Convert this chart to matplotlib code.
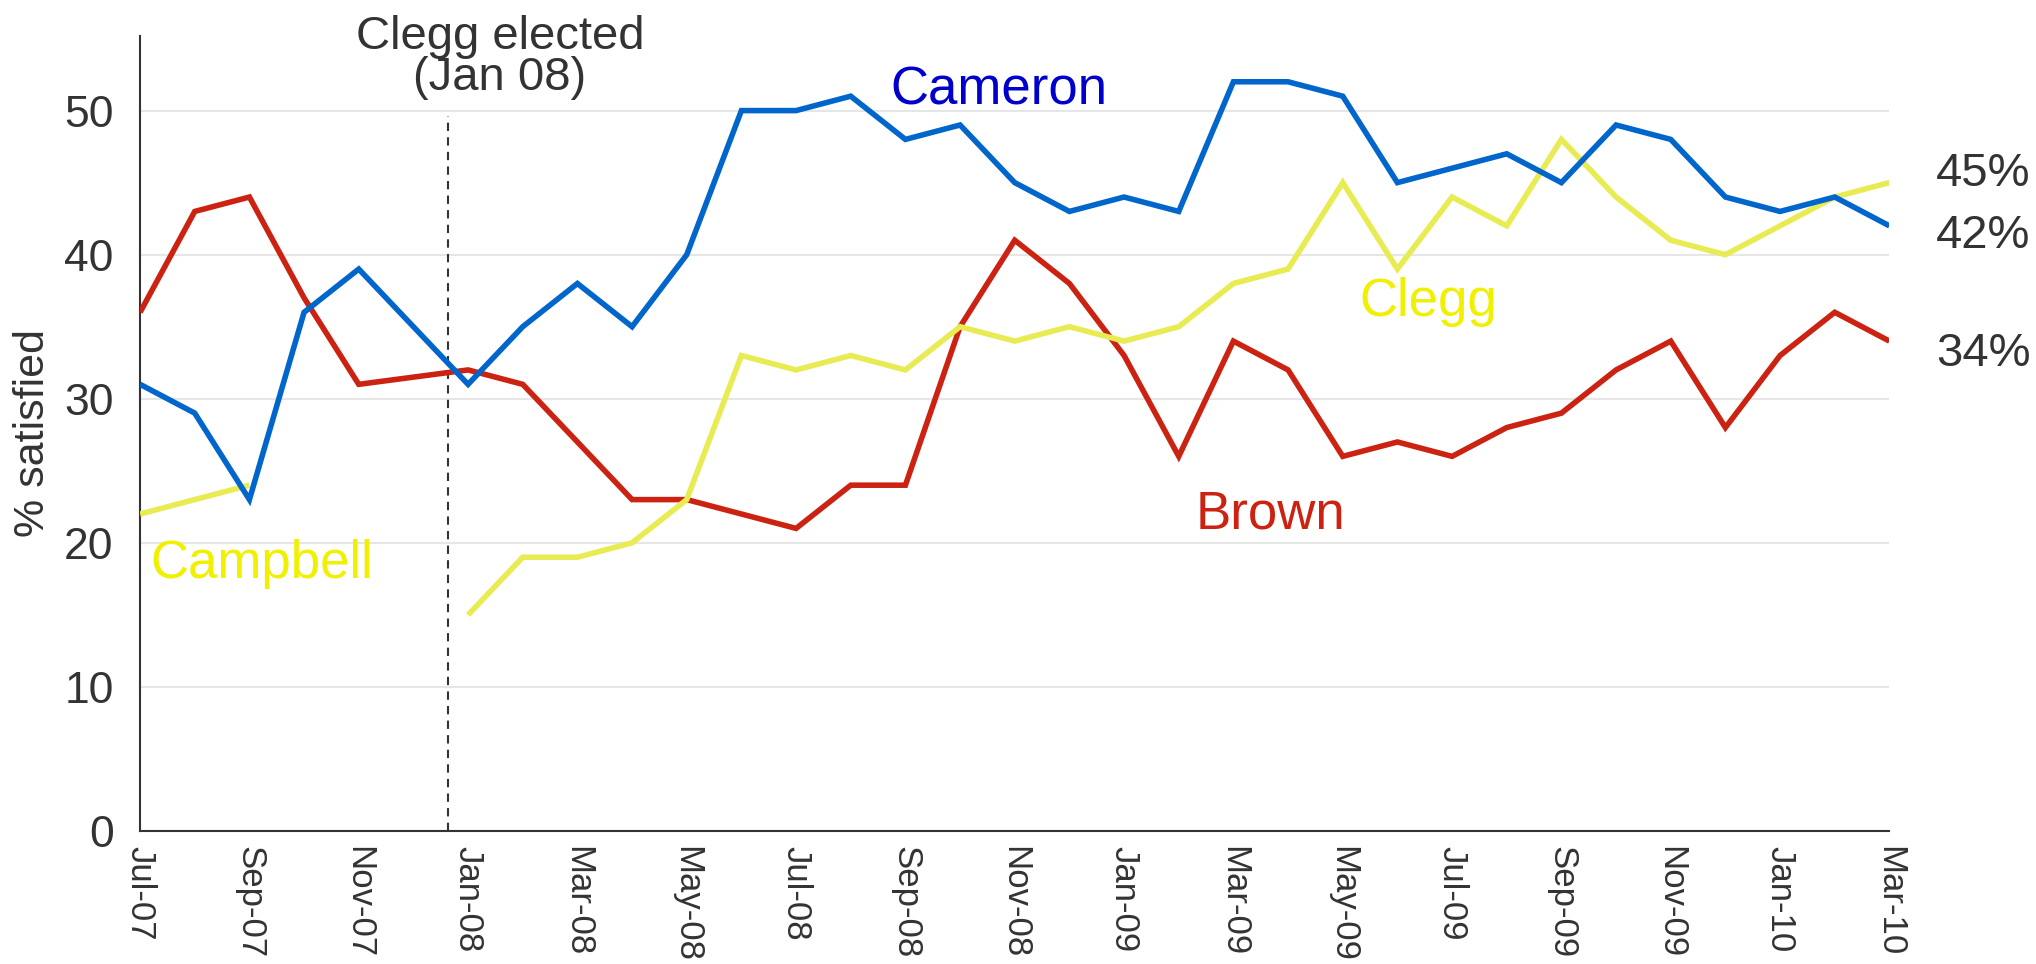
import matplotlib
matplotlib.use("Agg")
import matplotlib.pyplot as plt
import numpy as np

plt.rcParams['font.family'] = ['Liberation Sans', 'DejaVu Sans']

months = ["Jul-07", "Aug-07", "Sep-07", "Oct-07", "Nov-07", "Dec-07",
          "Jan-08", "Feb-08", "Mar-08", "Apr-08", "May-08", "Jun-08",
          "Jul-08", "Aug-08", "Sep-08", "Oct-08", "Nov-08", "Dec-08",
          "Jan-09", "Feb-09", "Mar-09", "Apr-09", "May-09", "Jun-09",
          "Jul-09", "Aug-09", "Sep-09", "Oct-09", "Nov-09", "Dec-09",
          "Jan-10", "Feb-10", "Mar-10"]

cameron = [31, 29, 23, 36, 39, None, 31, 35, 38, 35, 40, 50,
           50, 51, 48, 49, 45, 43, 44, 43, 52, 52, 51, 45,
           46, 47, 45, 49, 48, 44, 43, 44, 42]
brown = [36, 43, 44, 37, 31, None, 32, 31, 27, 23, 23, 22,
         21, 24, 24, 35, 41, 38, 33, 26, 34, 32, 26, 27,
         26, 28, 29, 32, 34, 28, 33, 36, 34]
clegg = [None, None, None, None, None, None, 15, 19, 19, 20, 23, 33,
         32, 33, 32, 35, 34, 35, 34, 35, 38, 39, 45, 39,
         44, 42, 48, 44, 41, 40, 42, 44, 45]
campbell = [22, 23, 24]

tick_labels = months[::2]

BLUE = "#0066CC"
RED = "#CC2211"
YELLOW = "#E8EC52"
TEXT = "#333333"

fig = plt.figure(figsize=(20.36, 9.64), dpi=100)
ax = fig.add_axes([0.0688, 0.138, 0.8592, 0.825])

def plot_series(vals, color):
    xs = [i for i, v in enumerate(vals) if v is not None]
    ys = [v for v in vals if v is not None]
    ax.plot(xs, ys, color=color, lw=4.0, solid_joinstyle='miter',
            solid_capstyle='butt', zorder=3)

plot_series(brown, RED)
plot_series(campbell, YELLOW)
plot_series(clegg, YELLOW)
plot_series(cameron, BLUE)

ax.set_xlim(0, len(months) - 1)
ax.set_ylim(0, 55.2)
ax.set_yticks([0, 10, 20, 30, 40, 50])
ax.set_xticks(range(0, len(months), 2))
ax.set_xticklabels(tick_labels, rotation=270, fontsize=25, color=TEXT,
                   va='top', ha='center')
ax.tick_params(axis='y', labelsize=32, colors=TEXT, length=0, pad=19)
ax.tick_params(axis='x', length=0, pad=11)
ax.grid(axis='y', color='#E6E6E6', lw=1.5, zorder=0)
ax.set_axisbelow(True)
for s in ['top', 'right']:
    ax.spines[s].set_visible(False)
for s in ['left', 'bottom']:
    ax.spines[s].set_color(TEXT)
    ax.spines[s].set_linewidth(1.5)
ax.set_ylabel("% satisfied", fontsize=31, color=TEXT, labelpad=8)

# Clegg elected marker
ev = months.index("Jan-08") - 0.37
ax.plot([ev, ev], [0, 49.6], color=TEXT, lw=1.5, ls=(0, (4, 3)), zorder=2)
ax.text(6.58, 50.75, "Clegg elected\n(Jan 08)", ha='center', va='bottom',
        fontsize=34, color=TEXT, linespacing=0.92, clip_on=False)

# series labels
ax.text(13.73, 51.4, "Cameron", color="#0000CC", fontsize=38, va='center', ha='left')
ax.text(19.3, 22.0, "Brown", color=RED, fontsize=38, va='center', ha='left')
ax.text(22.3, 36.7, "Clegg", color="#F0F000", fontsize=38, va='center', ha='left')
ax.text(0.19, 18.5, "Campbell", color="#F0F000", fontsize=38, va='center', ha='left')

# end values
last = len(months) - 1
ax.text(last + 0.85, 45.6, f"{clegg[-1]}%", color=TEXT, fontsize=34, va='center', ha='left', clip_on=False)
ax.text(last + 0.85, 41.3, f"{cameron[-1]}%", color=TEXT, fontsize=34, va='center', ha='left', clip_on=False)
ax.text(last + 0.85, 33.1, f"{brown[-1]}%", color=TEXT, fontsize=34, va='center', ha='left', clip_on=False)

fig.savefig("out.png", dpi=100, facecolor='white')
